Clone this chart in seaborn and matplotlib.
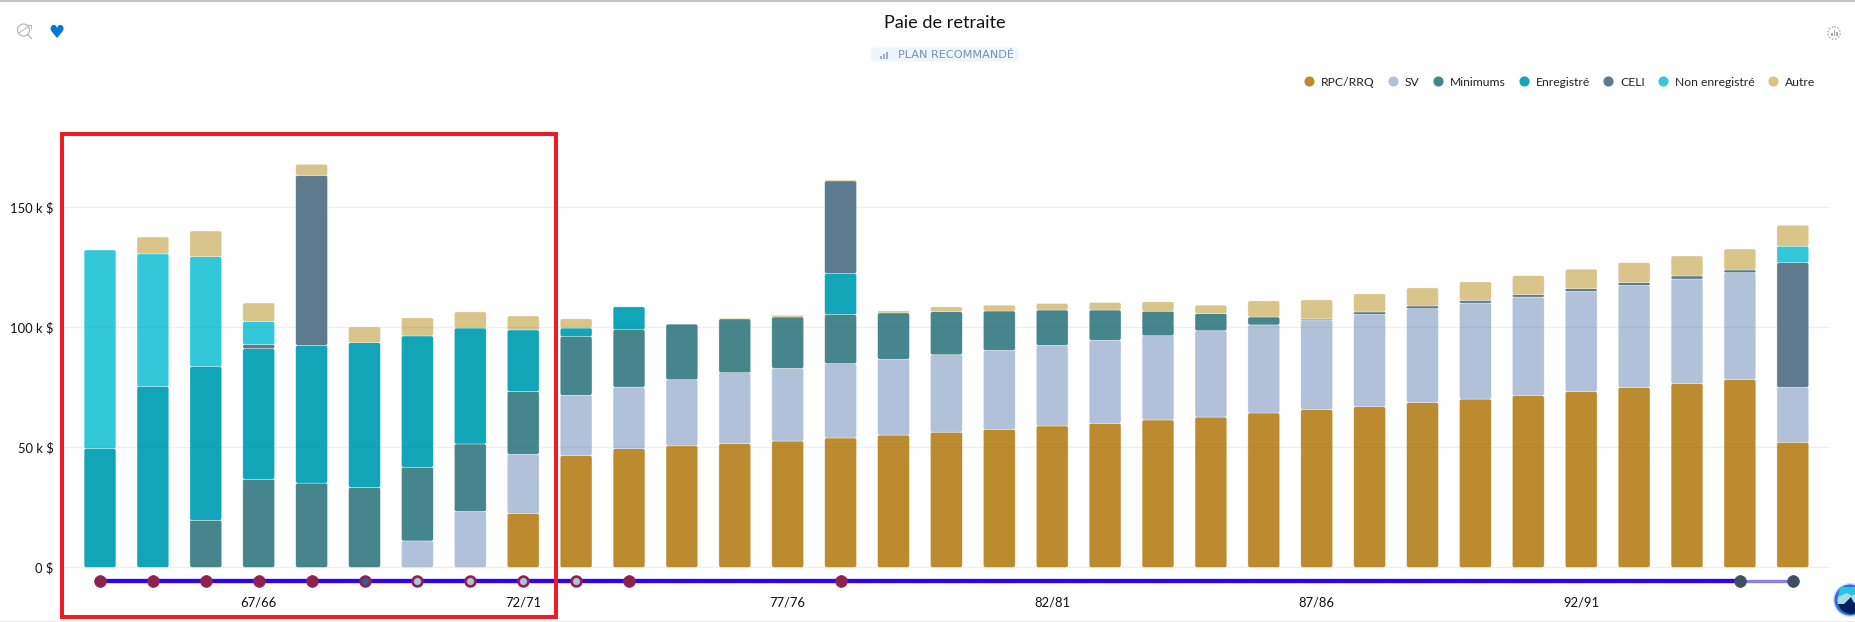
import matplotlib
matplotlib.use("Agg")
import matplotlib.pyplot as plt
from matplotlib.lines import Line2D
from matplotlib.patches import Circle, FancyBboxPatch, Polygon, Rectangle
from matplotlib.transforms import Affine2D
import numpy as np
import pandas as pd
import seaborn as sns

rpc = [0, 0, 0, 0, 0, 0, 0, 0, 22.4, 46.5, 49.4, 50.6, 51.5, 52.6, 53.9, 55.1, 56.3,
       57.5, 58.9, 60.0, 61.4, 62.6, 64.3, 65.7, 66.9, 68.6, 70.1, 71.5, 73.2, 74.9, 76.5, 78.2, 52.1]
sv = [0, 0, 0, 0, 0, 0, 11.0, 23.3, 24.7, 25.2, 25.7, 27.6, 29.6, 30.3, 31.0, 31.6, 32.3,
      32.9, 33.6, 34.6, 35.1, 36.0, 36.7, 37.4, 38.5, 39.2, 40.0, 41.1, 41.8, 42.6, 43.6, 44.6, 22.9]
minimums = [0, 0, 19.6, 36.7, 35.1, 33.3, 30.7, 28.1, 26.2, 24.4, 23.9, 23.1, 22.4, 21.4, 20.4, 19.3, 17.9,
            16.4, 14.7, 12.6, 10.2, 7.1, 3.3, 0.4, 0, 0, 0, 0, 0, 0, 0, 0, 0]
enregistre = [49.4, 75.3, 64.0, 54.4, 57.4, 60.3, 54.7, 48.3, 25.6, 3.6, 9.5, 0, 0, 0, 17.1, 0, 0,
              0, 0, 0, 0, 0, 0, 0, 0, 0, 0, 0, 0, 0, 0, 0, 0]
celi = [0, 0, 0, 1.7, 70.8, 0, 0, 0, 0, 0, 0, 0, 0, 0, 38.6, 0, 0,
        0, 0, 0, 0, 0, 0, 0, 1.0, 1.1, 1.1, 1.0, 1.1, 1.1, 1.3, 1.1, 51.9]
non_enregistre = [82.8, 55.3, 45.8, 9.6, 0, 0, 0, 0, 0, 0, 0, 0, 0, 0, 0, 0, 0,
                  0, 0, 0, 0, 0, 0, 0, 0, 0, 0, 0, 0, 0, 0, 0, 6.9]
autre = [0, 7.0, 10.7, 7.7, 4.6, 6.5, 7.5, 6.7, 5.8, 3.8, 0, 0, 0.3, 0.7, 0.4, 0.8, 2.0,
         2.4, 2.7, 3.1, 3.9, 3.5, 6.7, 7.9, 7.5, 7.5, 7.7, 7.9, 8.1, 8.3, 8.3, 8.7, 8.7]

series_names = ["RPC/RRQ", "SV", "Minimums", "Enregistré", "CELI", "Non enregistré", "Autre"]
series_values = [rpc, sv, minimums, enregistre, celi, non_enregistre, autre]
series_colors = ["#BD8B2F", "#B1C1DA", "#46858C", "#12A5B7", "#5D7A8E", "#32C8DA", "#D9C48A"]

year_labels = {3: "67/66", 8: "72/71", 13: "77/76", 18: "82/81", 23: "87/86", 28: "92/91"}
y_ticks = [0, 50, 100, 150]
y_tick_labels = ["0 $", "50 k $", "100 k $", "150 k $"]

# Timeline events under the bars
solid_events = [0, 1, 2, 3, 4, 10, 14]
dark_ring_events = [5]
light_ring_events = [6, 7, 8, 9]
end_events = [31, 32]

W, H = 1855, 622
sns.set_theme(style="white")
plt.rcParams["font.family"] = ["Lato", "DejaVu Sans"]
fig = plt.figure(figsize=(W / 100, H / 100), dpi=100)
page = Affine2D().scale(1 / W, -1 / H).translate(0, 1) + fig.transFigure

# Axes frame in pixels
left, right, top, bottom = 60, 1830, 123, 592
ax = fig.add_axes([left / W, 1 - bottom / H, (right - left) / W, (bottom - top) / H])
ax.set_facecolor("none")

positions = np.arange(len(rpc))
frame = pd.DataFrame({"x": positions})
base = np.zeros(len(rpc))
for name, values, color in zip(series_names, series_values, series_colors):
    frame["value"] = values
    frame["base"] = base
    shown = frame[frame["value"] > 0]
    sns.barplot(data=shown, x="x", y="value", bottom=shown["base"], color=color, saturation=1,
                width=0.6, native_scale=True, ax=ax, zorder=2)
    base = base + np.array(values)

ax.set_xlim((left - 100) / 52.9, (right - 100) / 52.9)
ax.set_ylim((567.3 - bottom) / 2.4, (567.3 - top) / 2.4)

# Soften the bar corners by about two pixels
x_per_px = 1 / 52.9
y_per_px = 1 / 2.4
aspect = y_per_px / x_per_px
for rect in list(ax.patches):
    x0, y0, w, h = rect.get_x(), rect.get_y(), rect.get_width(), rect.get_height()
    radius = min(2.0, h / y_per_px / 2.0) * x_per_px
    rounded = FancyBboxPatch((x0, y0), w, h, boxstyle=f"round,pad=0,rounding_size={radius}",
                             mutation_aspect=aspect, facecolor=rect.get_facecolor(),
                             edgecolor=(1, 1, 1, 0.55), linewidth=0.4, zorder=2)
    rect.remove()
    ax.add_patch(rounded)

ax.set_xticks(sorted(year_labels), [year_labels[k] for k in sorted(year_labels)])
ax.set_yticks(y_ticks, y_tick_labels)
ax.set_axisbelow(False)
ax.grid(axis="y", color="#6E6E84", alpha=0.11, linewidth=1)
ax.grid(axis="x", visible=False)
for spine in ax.spines.values():
    spine.set_visible(False)
ax.tick_params(axis="y", length=3, width=0.8, color="#999999", labelsize=9.4, pad=1.5, labelcolor="#111111")
ax.tick_params(axis="x", length=0, labelsize=9.4, pad=3.5, labelcolor="#111111")

# Timeline track and events
timeline_level = -5.6
track = pd.DataFrame({"x": [positions[0], positions[-2]], "y": [timeline_level] * 2})
sns.lineplot(data=track, x="x", y="y", color="#2E00F5", linewidth=3.1, ax=ax, zorder=4)
tail = pd.DataFrame({"x": [positions[-2], positions[-1]], "y": [timeline_level] * 2})
sns.lineplot(data=tail, x="x", y="y", color="#8D7DE8", linewidth=2.4, ax=ax, zorder=4)


def events(indices, face, edge, width, area):
    data = pd.DataFrame({"x": indices, "y": [timeline_level] * len(indices)})
    sns.scatterplot(data=data, x="x", y="y", s=area, color=face, edgecolor=edge, linewidth=width,
                    ax=ax, zorder=5, clip_on=False, legend=False)


events(solid_events, "#8E2150", "#8E2150", 0.5, 72)
events(dark_ring_events, "#3C5A8A", "#8E2150", 1.9, 50)
events(light_ring_events, "#B1C1DA", "#8E2150", 1.9, 50)
events(end_events, "#3F4F5F", "#3F4F5F", 0.5, 72)
ax.set_xlabel("")
ax.set_ylabel("")

# Title and plan badge
fig.text(945 / W, 1 - 23 / H, "Paie de retraite", ha="center", va="center", fontsize=13.1,
         color="#111111")
fig.add_artist(FancyBboxPatch((873, 49.5), 144, 10, boxstyle="round,pad=2,rounding_size=4", transform=page,
                              facecolor="#EDF6FC", edgecolor="none"))
fig.text(955.5 / W, 1 - 55.5 / H, "PLAN RECOMMANDÉ", ha="center", va="center", fontsize=8.1,
         color="#7C8FAE", family=["DejaVu Sans"])
for bar_x, bar_h in zip([880, 883, 886], [3, 5, 7]):
    fig.add_artist(Rectangle((bar_x, 58.5 - bar_h), 2.2, bar_h, transform=page, color="#9FAEC0", lw=0))

# Legend along the top right
handles = [Line2D([], [], linestyle="", marker="o", markersize=6.3, color=c) for c in series_colors]
fig.legend(handles, series_names, ncols=7, loc="center right", bbox_to_anchor=(1815 / W, 1 - 82 / H),
           frameon=False, fontsize=8.7, handlelength=1, handletextpad=0.45, columnspacing=1.05,
           borderpad=0, borderaxespad=0, labelcolor="#222222")

# Frame highlighting the first years
fig.add_artist(Rectangle((61.5, 134.3), 494.8, 482.4, transform=page, fill=False,
                         edgecolor="#EE1C25", linewidth=2.9))

# Page rules
fig.add_artist(Rectangle((0, 0), W, 1.5, transform=page, color="#C4C4C4", lw=0))
fig.add_artist(Rectangle((0, 620.5), W, 1.5, transform=page, color="#EDEDED", lw=0))

# Toolbar glyphs
fig.text(56 / W, 1 - 33.5 / H, "♥", ha="center", va="center", fontsize=13, color="#0078D4",
         family=["DejaVu Sans"])
fig.add_artist(Circle((23.5, 30), 6, transform=page, fill=False, edgecolor="#B0B0B0", lw=0.8))
fig.add_artist(Line2D([27.5, 31.5], [34.5, 38.5], transform=page, color="#B0B0B0", lw=0.9))
fig.add_artist(Line2D([19, 30.5], [33, 25], transform=page, color="#B8B8B8", lw=0.7))
fig.add_artist(Line2D([27, 30.5, 30.5], [25, 25, 29], transform=page, color="#B8B8B8", lw=0.7))
fig.add_artist(Circle((1834, 33), 6.2, transform=page, fill=False, edgecolor="#BBBBBB", lw=1.2,
                      linestyle=(0, (1, 1))))
for bar_x, bar_h in zip([1831, 1833.5, 1836], [3, 6, 4]):
    fig.add_artist(Rectangle((bar_x, 36 - bar_h), 1.6, bar_h, transform=page, color="#A8A8A8", lw=0))

# Assistant badge in the lower corner
fig.add_artist(Circle((1850, 600), 17, transform=page, color="#3A78F0", alpha=0.25, lw=0))
fig.add_artist(Circle((1850, 600), 15.5, transform=page, color="#2F6BE8", lw=0))
fig.add_artist(Circle((1851, 600.5), 13.5, transform=page, color="#A8DDE8", lw=0))
cap = Polygon([(1838, 597), (1847, 593), (1852, 596), (1858, 592), (1858, 587), (1840, 587)],
              transform=page, color="#2CC4DA", lw=0)
fig.add_artist(cap)
globe = Polygon([(1837, 604), (1844, 604), (1851, 597), (1854, 603), (1858, 600), (1858, 616), (1837, 616)],
                transform=page, color="#00205E", lw=0)
fig.add_artist(globe)
globe.set_clip_path(Circle((1851, 600.5), 13.5, transform=page))

fig.savefig("out.png", dpi=100)
